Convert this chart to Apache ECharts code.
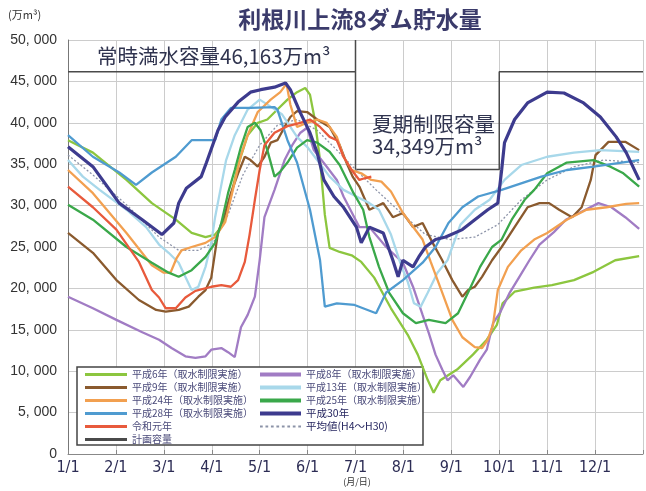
<!DOCTYPE html>
<html><head><meta charset="utf-8">
<script src="https://cdn.jsdelivr.net/npm/echarts@6/dist/echarts.min.js"></script>
<style>html,body{margin:0;padding:0;background:#fff}#c{width:646px;height:491px}</style>
</head><body><div id="c"></div>
<script>
// x = months elapsed since 1/1 (0..12), y = 万m3
const monthLabels = ['1/1','2/1','3/1','4/1','5/1','6/1','7/1','8/1','9/1','10/1','11/1','12/1'];
const capX = [0, 6, 6, 9, 9, 12];
const capY = [46163, 46163, 34349, 34349, 46163, 46163];

const h6 = [[0,37900],[0.52,36400],[1.22,33100],[1.75,30300],[2.25,28300],[2.58,26700],[2.87,26200],[3.07,26500],[3.24,27700],[3.38,30700],[3.55,34900],[3.75,38500],[3.96,40000],[4.16,40400],[4.37,41600],[4.58,42800],[4.78,43700],[4.95,44200],[5.05,43400],[5.15,40400],[5.26,35500],[5.36,28900],[5.46,24900],[5.67,24400],[5.92,24000],[6.12,23200],[6.39,21300],[6.74,17600],[7.09,14400],[7.3,12000],[7.51,8900],[7.63,7400],[7.77,8900],[8.12,10200],[8.45,12000],[8.74,13800],[8.95,15600],[9.07,18200],[9.32,19600],[9.73,20100],[10.1,20400],[10.56,21000],[10.97,22000],[11.42,23400],[11.92,23900]];
const h9 = [[0,26700],[0.52,24300],[1.01,21000],[1.48,18600],[1.84,17400],[2.04,17200],[2.31,17400],[2.52,17800],[2.72,19000],[2.87,19800],[2.99,21300],[3.13,26700],[3.28,29100],[3.4,31500],[3.55,33900],[3.69,35900],[3.81,35500],[3.96,34700],[4.1,35900],[4.23,37600],[4.37,37900],[4.52,39500],[4.64,40700],[4.78,41400],[4.99,41300],[5.2,40400],[5.46,39500],[5.67,37300],[5.81,35200],[5.94,33500],[6.08,32300],[6.29,29500],[6.58,30300],[6.78,28600],[6.99,29100],[7.2,27400],[7.4,27900],[7.61,25500],[7.81,23400],[8.02,21000],[8.23,19000],[8.35,19800],[8.49,20200],[8.64,21400],[8.85,23400],[9.05,25000],[9.32,27400],[9.59,29800],[9.84,30300],[10.04,30300],[10.25,29500],[10.52,28600],[10.72,29800],[10.91,33100],[11.01,36100],[11.28,37700],[11.63,37700],[11.92,36700]];
const h24 = [[0,34300],[0.52,31500],[1.22,26700],[1.75,22800],[2.0,21900],[2.14,21900],[2.27,23700],[2.37,24600],[2.58,25000],[2.87,25500],[3.07,26200],[3.28,28000],[3.44,31900],[3.61,36100],[3.75,38500],[3.96,41300],[4.23,42800],[4.43,43700],[4.56,44700],[4.64,42200],[4.78,39500],[4.99,40000],[5.2,40400],[5.4,40000],[5.61,38300],[5.75,35900],[5.92,34300],[6.12,33900],[6.33,33100],[6.54,32900],[6.74,31700],[6.99,29100],[7.22,27300],[7.4,25900],[7.57,23200],[7.81,19500],[8.02,16200],[8.23,14100],[8.49,12900],[8.64,12800],[8.76,13800],[8.87,15600],[8.97,19800],[9.18,22600],[9.46,24600],[9.73,25900],[10.0,26700],[10.41,28300],[10.82,29500],[11.24,29800],[11.65,30200],[11.92,30300]];
const h28 = [[0,38500],[0.52,35900],[1.07,34000],[1.42,32500],[1.75,34000],[2.25,35900],[2.58,37900],[3.07,37900],[3.2,40400],[3.4,41800],[3.81,41800],[4.31,41900],[4.37,41600],[4.58,37900],[4.78,35200],[5.05,29500],[5.26,23400],[5.36,17800],[5.61,18200],[5.98,18000],[6.43,17000],[6.64,19500],[6.99,21000],[7.4,23100],[7.67,25000],[7.94,27900],[8.23,29800],[8.56,31100],[9.05,31900],[9.88,33500],[10.41,34300],[10.97,34700],[11.92,35500]];
const r1 = [[0,32300],[0.52,29800],[1.01,27100],[1.48,23200],[1.75,19800],[1.9,18900],[2.04,17600],[2.25,17600],[2.45,18900],[2.66,19700],[2.99,20200],[3.2,20400],[3.4,20200],[3.55,21000],[3.69,23200],[3.79,26500],[3.9,30700],[4.0,34300],[4.1,37300],[4.31,38800],[4.58,39600],[4.85,40000],[5.05,40400],[5.26,39500],[5.46,38300],[5.61,37900],[5.75,35900],[5.92,34300],[6.08,33100],[6.19,33300],[6.33,33500]];
const h8 = [[0,19000],[0.52,17600],[1.01,16200],[1.55,14700],[1.9,13800],[2.16,12800],[2.45,11800],[2.66,11600],[2.87,11800],[2.99,12600],[3.2,12800],[3.34,12300],[3.48,11700],[3.61,15300],[3.75,16800],[3.9,19000],[4.0,23400],[4.1,28600],[4.31,31900],[4.52,35500],[4.68,37300],[4.85,38800],[4.99,39400],[5.13,36700],[5.4,34700],[5.61,33100],[5.75,31100],[5.92,29200],[6.08,27400],[6.29,27400],[6.64,25000],[6.99,23100],[7.2,20200],[7.4,16800],[7.53,14600],[7.67,12000],[7.81,10200],[7.92,8900],[8.04,9500],[8.25,8100],[8.39,9300],[8.6,11400],[8.74,12600],[8.87,15800],[9.01,17000],[9.22,19500],[9.42,21400],[9.63,23400],[9.84,25300],[10.14,26800],[10.39,28300],[10.8,29500],[11.07,30300],[11.34,29800],[11.63,28600],[11.92,27200]];
const h13 = [[0,35500],[0.31,33500],[0.66,31900],[1.22,29500],[1.63,27400],[1.9,25300],[2.1,24300],[2.31,23100],[2.58,19800],[2.72,20200],[2.87,22600],[2.99,25500],[3.07,28600],[3.18,31900],[3.3,35500],[3.48,38500],[3.75,41600],[4.0,42800],[4.27,41800],[4.47,41000],[4.78,38300],[4.99,37100],[5.2,35500],[5.46,33500],[5.75,31900],[6.02,31100],[6.29,30300],[6.49,29500],[6.74,26500],[6.95,22800],[7.09,20800],[7.22,18200],[7.36,17800],[7.51,19500],[7.71,21900],[7.92,23400],[8.19,27700],[8.49,29500],[8.8,30700],[9.11,33100],[9.46,34900],[10.0,35900],[10.56,36400],[11.11,36700],[11.92,36500]];
const h25 = [[0,30100],[0.52,28300],[1.22,25000],[1.75,23100],[2.1,21900],[2.31,21400],[2.58,22200],[2.87,23800],[3.07,25500],[3.2,27900],[3.34,31500],[3.48,34300],[3.61,37100],[3.75,39500],[3.9,40000],[4.02,39100],[4.16,36700],[4.31,33500],[4.43,34100],[4.58,35200],[4.78,37000],[4.99,37900],[5.2,37600],[5.46,36500],[5.67,34900],[5.96,31500],[6.16,29500],[6.29,26200],[6.49,22600],[6.7,19500],[6.99,17000],[7.26,15800],[7.53,16200],[7.88,15800],[8.14,17000],[8.35,19500],[8.6,22600],[8.85,25000],[9.05,25900],[9.26,28300],[9.53,30700],[9.73,31900],[10.0,33900],[10.41,35200],[10.97,35500],[11.32,34700],[11.59,33900],[11.92,32300]];
const h30 = [[0,37100],[0.52,34700],[1.07,30300],[1.55,28300],[1.96,26500],[2.21,27900],[2.31,30300],[2.47,32100],[2.78,33500],[2.89,35200],[3.13,39100],[3.28,40700],[3.55,42500],[3.81,43700],[4.02,44000],[4.31,44300],[4.54,44800],[4.64,44000],[4.85,41200],[5.05,38800],[5.2,36400],[5.34,33100],[5.55,31100],[5.75,29800],[6.02,27400],[6.12,25500],[6.29,27400],[6.58,26700],[6.78,23400],[6.89,21400],[6.99,23400],[7.2,22600],[7.32,23800],[7.46,25000],[7.67,25900],[7.88,26200],[8.23,27100],[8.49,28300],[8.76,29500],[8.97,30300],[9.05,34300],[9.11,37600],[9.32,40400],[9.59,42400],[10.0,43700],[10.35,43600],[10.76,42400],[11.11,40700],[11.44,38300],[11.65,36400],[11.92,33100]];
const avg = [[0,36100],[0.52,33700],[1.22,30100],[1.9,26200],[2.31,24600],[2.72,24600],[3.03,25500],[3.34,28900],[3.65,33700],[4.0,37300],[4.37,39700],[4.78,40400],[5.2,39100],[5.61,36700],[5.96,34600],[6.43,31900],[6.99,28900],[7.46,26500],[7.98,25900],[8.49,26200],[8.97,27700],[9.46,30700],[10.0,33100],[10.56,34700],[11.18,35500],[11.92,35200]];

const capacity = capX.map((x, i) => [x, capY[i]]);
const boxEdge = [[capX[1], 50000], [capX[1], capY[1]]];

const JP = "'Noto Sans CJK JP','Noto Sans',sans-serif";
function line(name, data, color, width, extra) {
  return Object.assign({
    name, type: 'line', data, symbol: 'none', smooth: false,
    lineStyle: { color, width }, itemStyle: { color }, emphasis: { disabled: true }
  }, extra || {});
}
const series = [
  line('計画容量', capacity, '#4a4a4a', 1.5, { z: 3 }),
  line('_box', boxEdge, '#4a4a4a', 1.5, { z: 3 }),
  line('平均値(H4～H30)', avg, '#8c93a8', 1.3, { lineStyle: { color: '#8c93a8', width: 1.3, type: [2, 2] } }),
  line('平成6年（取水制限実施）', h6, '#8cc63f', 2.3),
  line('平成8年（取水制限実施）', h8, '#a17cc4', 2.3),
  line('平成9年（取水制限実施）', h9, '#8a5a2e', 2.3),
  line('平成13年（取水制限実施）', h13, '#a8d8ea', 2.3),
  line('平成24年（取水制限実施）', h24, '#f2a050', 2.3),
  line('平成25年（取水制限実施）', h25, '#3aa84a', 2.3),
  line('平成28年（取水制限実施）', h28, '#4f9bd0', 2.3),
  line('令和元年', r1, '#e85a3c', 2.3),
  line('平成30年', h30, '#3d3b8e', 3.2)
];

let dash = '';
for (let i = 0; i < 8; i++) dash += 'M' + (i * 6) + ',0h3v2h-3z';
const dashIcon = 'path://' + dash;
const legendText = { color: '#4a4a7a', fontSize: 10, lineHeight: 13, fontFamily: JP };
const dark = { color: '#262660', fontSize: 10.5, lineHeight: 13, fontFamily: JP };
const leftNames = ['平成6年（取水制限実施）','平成9年（取水制限実施）','平成24年（取水制限実施）','平成28年（取水制限実施）','令和元年','計画容量'];
const rightNames = ['平成8年（取水制限実施）','平成13年（取水制限実施）','平成25年（取水制限実施）','平成30年','平均値(H4～H30)'];

const chart = echarts.init(document.getElementById('c'), null, { renderer: 'canvas' });
chart.setOption({
  animation: false,
  backgroundColor: '#ffffff',
  grid: { left: 68, top: 40, right: -4, bottom: 37, containLabel: false },
  xAxis: {
    type: 'value', min: 0, max: 12, interval: 1,
    axisLine: { show: true, onZero: false, lineStyle: { color: '#888', width: 1 } },
    axisTick: { show: true, inside: true, length: 4, lineStyle: { color: '#888' } },
    axisLabel: {
      formatter: v => (v < 12 ? monthLabels[v] : ''), color: '#2d2d55', fontSize: 16,
      fontFamily: "'Liberation Sans Narrow','DejaVu Sans Condensed',sans-serif", margin: 6
    },
    splitLine: { show: true, lineStyle: { color: '#cccccc', width: 1 } }
  },
  yAxis: {
    type: 'value', min: 0, max: 50000, interval: 5000,
    axisLine: { show: true, lineStyle: { color: '#777', width: 1 } },
    axisTick: { show: false },
    axisLabel: {
      formatter: v => String(v).replace(/\B(?=(\d{3})+(?!\d))/g, ', '),
      color: '#333', fontSize: 14, margin: 11, fontFamily: "'Liberation Sans',sans-serif"
    },
    splitLine: { show: true, lineStyle: { color: '#cccccc', width: 1 } }
  },
  legend: [
    {
      left: 85, top: 368, padding: 0, orient: 'vertical', itemWidth: 42, itemHeight: 3, itemGap: 0,
      textStyle: legendText, selectedMode: false,
      data: leftNames.map(n => ({ name: n, icon: 'rect' }))
    },
    {
      left: 260, top: 368, padding: 0, orient: 'vertical', itemWidth: 41, itemHeight: 4, itemGap: 0,
      textStyle: legendText, selectedMode: false,
      data: rightNames.map(n => {
        if (n === '平均値(H4～H30)') return { name: n, icon: dashIcon, textStyle: dark };
        if (n === '平成30年') return { name: n, icon: 'rect', textStyle: dark };
        return { name: n, icon: 'rect' };
      })
    }
  ],
  graphic: [
    { type: 'rect', z: 3, shape: { x: 77, y: 367, width: 346, height: 78 }, style: { fill: '#fff', stroke: '#444', lineWidth: 1.5 } },
    { type: 'text', z: 10, x: 360, y: 19, style: { text: '利根川上流8ダム貯水量', font: "bold 23px " + JP, fill: '#3b3b6b', align: 'center', verticalAlign: 'middle' } },
    { type: 'text', z: 10, x: 8, y: 15, style: { text: '(万m³)', font: "11px " + JP, fill: '#333', verticalAlign: 'middle' } },
    { type: 'text', z: 10, x: 97, y: 56, style: { text: '常時満水容量46,163万m³', font: "20.5px " + JP, fill: '#30344f', verticalAlign: 'middle' } },
    { type: 'text', z: 10, x: 372, y: 124, style: { text: '夏期制限容量', font: "20.5px " + JP, fill: '#30344f', verticalAlign: 'middle' } },
    { type: 'text', z: 10, x: 372, y: 146, style: { text: '34,349万m³', font: "20.5px " + JP, fill: '#30344f', verticalAlign: 'middle' } },
    { type: 'text', z: 10, x: 357, y: 482, style: { text: '(月/日)', font: "9px " + JP, fill: '#333', align: 'center', verticalAlign: 'middle' } }
  ],
  series
});
</script></body></html>
